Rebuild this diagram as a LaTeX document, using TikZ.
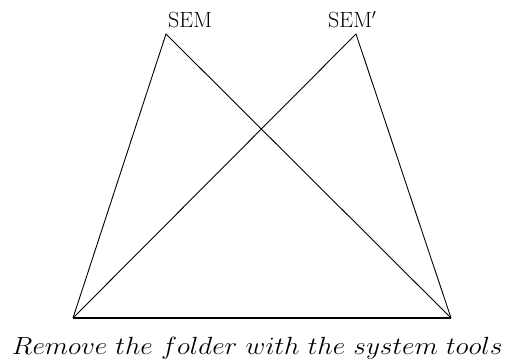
\documentclass[tikz,border=0pt]{standalone}
\begin{document}
\begin{tikzpicture}[x=1pt,y=-1pt,
  thinline/.style={line width=0.9pt},
  baseline/.style={line width=2pt},
  lbl/.style={inner sep=0pt, font=\fontsize{22}{26}\selectfont}]
\useasboundingbox (0,0) rectangle (515,362);
\coordinate (A) at (166,34);
\coordinate (B) at (356,34);
\coordinate (L) at (73,318);
\coordinate (R) at (451,318);
\draw[thinline] (L) -- (A) -- (R);
\draw[thinline] (L) -- (B) -- (R);
\draw[baseline] (L) -- (R);
\node[lbl, anchor=base west] (sem) at (168,27) {SEM};
\node[lbl, anchor=base west] (semp) at (328,27) {SEM$'$};
\node[inner sep=0pt, anchor=base, font=\fontsize{25}{30}\selectfont] (cap) at (257.5,354)
  {\resizebox{491pt}{\height}{$Remove\ the\ folder\ with\ the\ system\ tools$}};
\end{tikzpicture}
\end{document}
